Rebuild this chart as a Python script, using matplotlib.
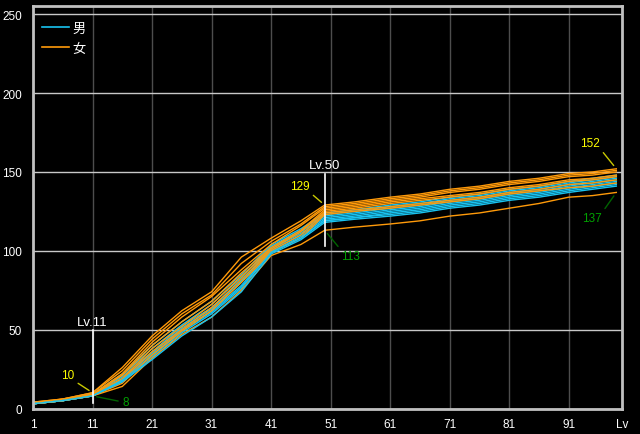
import matplotlib
matplotlib.use("Agg")
import matplotlib.pyplot as plt

plt.rcParams['font.family'] = ['Liberation Sans', 'Noto Sans CJK JP', 'DejaVu Sans']

# ---- data -------------------------------------------------------------
levels = [1, 6, 11, 16, 21, 26, 31, 36, 41, 46, 50, 55, 61, 66, 71, 76, 81, 86, 91, 95, 99]

female_1 = [4, 6, 10, 26, 46, 62, 74, 96, 108, 119, 129, 131, 134, 136, 139, 141, 144, 146, 149, 150, 152]
female_2 = [4, 6, 10, 24, 44, 60, 72, 92, 106, 117, 128, 130, 133, 135, 138, 140, 143, 145, 148, 149, 151]
female_3 = [3, 6, 9, 22, 42, 58, 71, 88, 104, 116, 127, 129, 132, 134, 137, 139, 142, 144, 147, 148, 150]
female_4 = [4, 5, 9, 21, 40, 55, 68, 86, 102, 113, 126, 128, 131, 133, 135, 137, 140, 142, 145, 146, 148]
female_5 = [3, 5, 9, 19, 38, 52, 66, 84, 101, 112, 125, 127, 130, 132, 134, 136, 139, 141, 144, 145, 147]
female_6 = [3, 5, 9, 18, 36, 50, 64, 82, 100, 110, 124, 126, 128, 130, 132, 134, 137, 139, 142, 143, 145]
female_7 = [3, 5, 8, 16, 34, 49, 62, 80, 99, 108, 123, 125, 127, 129, 131, 133, 136, 138, 140, 141, 143]
female_8 = [3, 5, 8, 14, 32, 47, 58, 75, 97, 104, 113, 115, 117, 119, 122, 124, 127, 130, 134, 135, 137]

male_1 = [4, 5, 9, 22, 40, 55, 68, 85, 104, 114, 124, 126, 129, 131, 134, 136, 139, 141, 144, 146, 148]
male_2 = [3, 5, 9, 21, 38, 53, 66, 83, 103, 113, 123, 125, 128, 130, 133, 135, 138, 140, 143, 145, 147]
male_3 = [3, 5, 9, 20, 36, 52, 64, 81, 102, 112, 122, 124, 127, 129, 132, 134, 137, 139, 142, 144, 146]
male_4 = [3, 5, 8, 19, 35, 51, 63, 80, 101, 111, 121, 123, 126, 128, 131, 133, 136, 138, 141, 143, 145]
male_5 = [3, 5, 8, 18, 34, 50, 62, 78, 100, 110, 120, 122, 125, 127, 130, 132, 135, 137, 140, 142, 144]
male_6 = [3, 5, 8, 18, 33, 49, 61, 77, 99, 109, 119, 121, 124, 126, 129, 131, 134, 136, 139, 141, 143]
male_7 = [3, 5, 8, 17, 32, 48, 60, 76, 99, 108, 119, 121, 123, 125, 128, 130, 133, 135, 138, 140, 142]
male_8 = [3, 5, 8, 17, 31, 46, 58, 74, 98, 107, 118, 120, 122, 124, 127, 129, 132, 134, 137, 139, 141]

female = [female_1, female_2, female_3, female_4, female_5, female_6, female_7, female_8]
male = [male_1, male_2, male_3, male_4, male_5, male_6, male_7, male_8]

series_labels = ['男', '女']
x_ticks = [1, 11, 21, 31, 41, 51, 61, 71, 81, 91, 100]
x_tick_labels = ['1', '11', '21', '31', '41', '51', '61', '71', '81', '91', 'Lv']
y_ticks = [0, 50, 100, 150, 200, 250]

# vertical markers: (level, low, high, label)
markers = [(11, 3.5, 49.5, 'Lv.11'), (50, 103, 149, 'Lv.50')]
# value notes: (level, value, text)
notes_max = [(11, 10, '10'), (50, 129, '129'), (99, 152, '152')]
notes_min = [(11, 8, '8'), (50, 113, '113'), (99, 137, '137')]

# ---- plot -------------------------------------------------------------
CYAN = '#19c3f0'
ORANGE = '#ff9a0a'

fig = plt.figure(figsize=(6.4, 4.35), dpi=100, facecolor='black')
ax = fig.add_axes([0.0516, 0.0586, 0.9207, 0.9245], facecolor='black')

for f, m in zip(female, male):
    ax.plot(levels, f, color=ORANGE, lw=1.0, zorder=3)
    ax.plot(levels, m, color=CYAN, lw=1.0, zorder=3)

ax.set_xlim(1, 100)
ax.set_ylim(0, 255)
ax.set_xticks(x_ticks)
ax.set_xticklabels(x_tick_labels)
ax.set_yticks(y_ticks)
ax.tick_params(axis='both', colors='white', length=0, labelsize=8.5)
ax.tick_params(axis='x', pad=7)
ax.tick_params(axis='y', pad=8)
ax.xaxis.grid(True, color='#4d4d4d', lw=1.0)
ax.yaxis.grid(True, color='#c8c8c8', lw=1.0)
ax.set_axisbelow(True)
for sp in ax.spines.values():
    sp.set_color('#c0c0c0')
    sp.set_linewidth(2.0)
    sp.set_zorder(5)

for lvl, lo, hi, lab in markers:
    ax.plot([lvl, lvl], [lo, hi], color='white', lw=1.2, zorder=4)
    ax.annotate(lab, xy=(lvl, hi), xytext=(0, 2), textcoords='offset points',
                ha='center', va='bottom', color='white', fontsize=9.5)

max_offsets = [(-25, 18), (-25, 19), (-26, 26)]
for (lvl, val, txt), off in zip(notes_max, max_offsets):
    ax.annotate(txt, xy=(lvl, val), xytext=off, textcoords='offset pixels',
                ha='center', va='center', color='#ffff00', fontsize=8.5,
                arrowprops=dict(arrowstyle='-', color='#c8c800', lw=1.0,
                                relpos=(1, 0), shrinkA=1, shrinkB=3), zorder=6)

min_offsets = [(33, -6), (26, -26), (-24, -26)]
min_relpos = [(0, 0.5), (0, 1), (1, 1)]
for (lvl, val, txt), off, rp in zip(notes_min, min_offsets, min_relpos):
    ax.annotate(txt, xy=(lvl, val), xytext=off, textcoords='offset pixels',
                ha='center', va='center', color='#00a000', fontsize=8.5,
                arrowprops=dict(arrowstyle='-', color='#006400', lw=1.0,
                                relpos=rp, shrinkA=1, shrinkB=3), zorder=6)

h_m, = ax.plot([], [], color=CYAN, lw=1.2)
h_f, = ax.plot([], [], color=ORANGE, lw=1.2)
leg = ax.legend([h_m, h_f], series_labels, loc='upper left', bbox_to_anchor=(0.0, 0.983),
                frameon=False, fontsize=9.5, handlelength=2.0, handletextpad=0.3,
                labelspacing=0.6, borderaxespad=0.3)
for t in leg.get_texts():
    t.set_color('white')

fig.savefig('out.png', dpi=100, facecolor='black')
